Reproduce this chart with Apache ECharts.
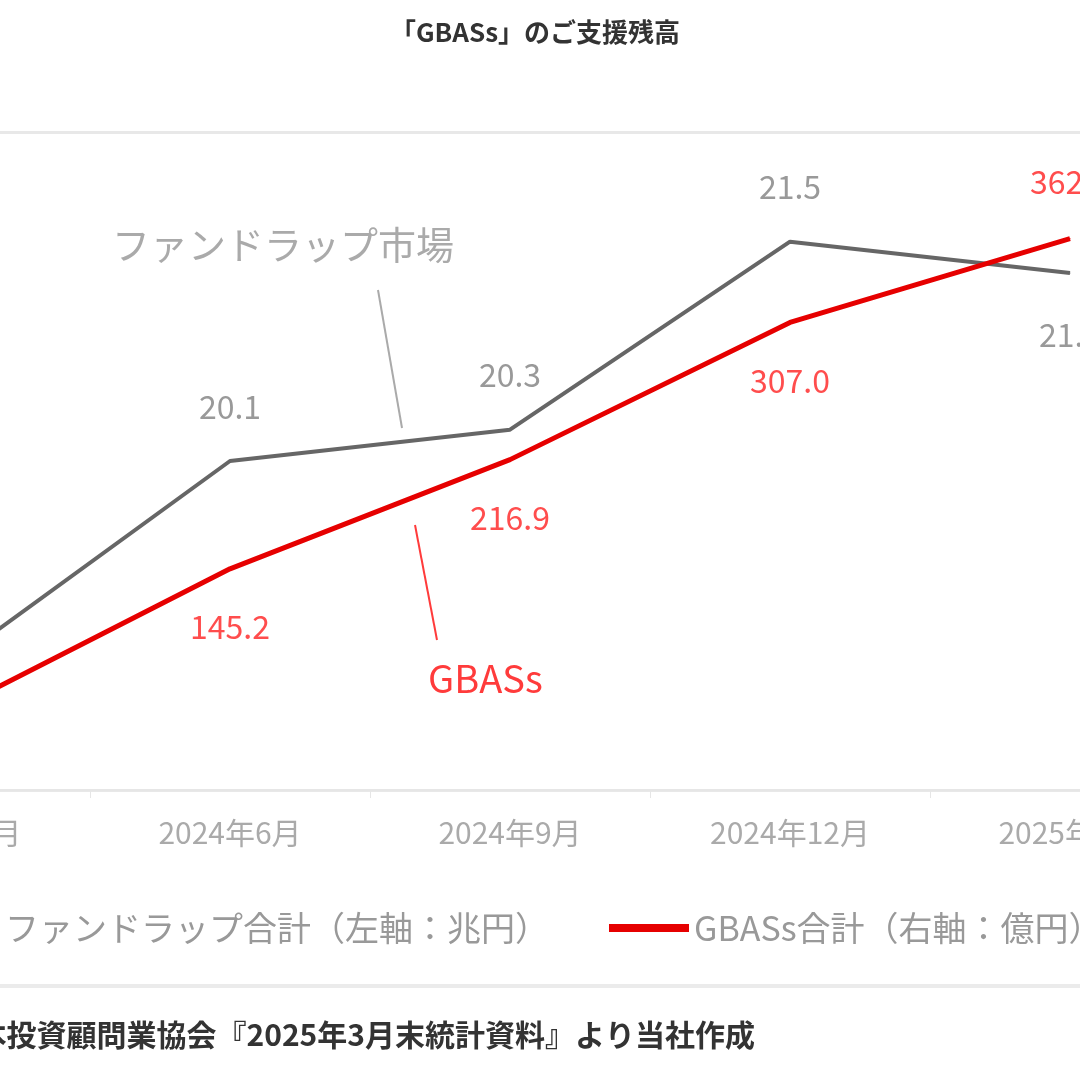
<!DOCTYPE html>
<html><head><meta charset="utf-8">
<script src="https://cdn.jsdelivr.net/npm/echarts@6/dist/echarts.min.js"></script>
<style>html,body{margin:0;padding:0;background:#fff;overflow:hidden;width:1080px;height:1080px;position:relative}
#c{width:1400px;height:1080px;position:absolute;left:-190px;top:0}</style>
</head><body><div id="c"></div>
<script>
const categories = ['2024年3月', '2024年6月', '2024年9月', '2024年12月', '2025年3月'];
const fundWrap = [18.8, 20.1, 20.3, 21.5, 21.3];
const gbass = [51.5, 145.2, 216.9, 307.0, 362.0];

const X = 190; // container offset
const W = 1400;
const chart = echarts.init(document.getElementById('c'));
const font = '"Noto Sans CJK JP", "Noto Sans", sans-serif';
const fundData = fundWrap.map((v, i) => i === 4
  ? { value: v, label: { position: 'bottom', distance: 45 } } : v);
const gbassData = gbass.map((v, i) => i === 4
  ? { value: v, label: { position: 'top', distance: 40 } } : v);
chart.setOption({
  animation: false,
  textStyle: { fontFamily: font },
  title: {
    text: '「GBASs」のご支援残高', left: 530 + X, top: 14, textAlign: 'center',
    textStyle: { fontSize: 26, fontWeight: 'bold', color: '#333', fontFamily: font }
  },
  legend: {
    left: X - 85, top: 906, itemWidth: 80, itemHeight: 8, itemGap: 60,
    icon: 'rect',
    textStyle: { fontSize: 34, color: '#999', fontFamily: font },
    data: ['ファンドラップ合計（左軸：兆円）', 'GBASs合計（右軸：億円）']
  },
  grid: { left: 0, right: 0, top: 132, bottom: 290 },
  xAxis: {
    type: 'category', data: categories, boundaryGap: true,
    axisLine: { lineStyle: { color: '#e6e6e6', width: 2 } },
    axisTick: { show: true, length: 8, lineStyle: { color: '#e6e6e6' } },
    axisLabel: { fontSize: 30, color: '#aaa', margin: 28, fontFamily: font }
  },
  yAxis: [
    { type: 'value', min: 18, max: 22.2, show: false, splitLine: { show: false } },
    { type: 'value', min: 0, max: 432, interval: 432, position: 'right',
      axisLabel: { show: false }, axisLine: { show: false }, axisTick: { show: false },
      splitLine: { lineStyle: { color: '#e8e8e8', width: 3 } } }
  ],
  series: [
    {
      name: 'ファンドラップ合計（左軸：兆円）', type: 'line', yAxisIndex: 0, data: fundData,
      symbol: 'circle', symbolSize: 1, showSymbol: true,
      lineStyle: { color: '#666', width: 4 }, itemStyle: { color: '#666' },
      label: { show: true, position: 'top', distance: 38, fontSize: 32, color: '#999',
        formatter: p => p.value.toFixed(1) }
    },
    {
      name: 'GBASs合計（右軸：億円）', type: 'line', yAxisIndex: 1, data: gbassData,
      symbol: 'circle', symbolSize: 1, showSymbol: true,
      lineStyle: { color: '#e60000', width: 5 }, itemStyle: { color: '#e60000' },
      label: { show: true, position: 'bottom', distance: 42, fontSize: 32, color: '#ff4d4d',
        formatter: p => p.value.toFixed(1) }
    }
  ],
  graphic: [
    { type: 'text', left: 112 + X, top: 226, style: { text: 'ファンドラップ市場', fontSize: 38, fill: '#aaa', fontFamily: font } },
    { type: 'line', shape: { x1: 378 + X, y1: 290, x2: 402 + X, y2: 428 }, style: { stroke: '#aaa', lineWidth: 2 } },
    { type: 'text', left: 428 + X, top: 660, style: { text: 'GBASs', fontSize: 38, fill: '#ff3b3b', fontFamily: font } },
    { type: 'line', shape: { x1: 415 + X, y1: 525, x2: 437 + X, y2: 640 }, style: { stroke: '#ff3b3b', lineWidth: 2 } },
    { type: 'rect', shape: { x: 0, y: 984, width: W, height: 4 }, style: { fill: '#ebebeb' } },
    { type: 'text', right: W - 755 - X, top: 1020, style: { text: '一般社団法人日本投資顧問業協会『2025年3月末統計資料』より当社作成', fontSize: 30, fontWeight: 'bold', fill: '#333', fontFamily: font } }
  ]
});
</script></body></html>
